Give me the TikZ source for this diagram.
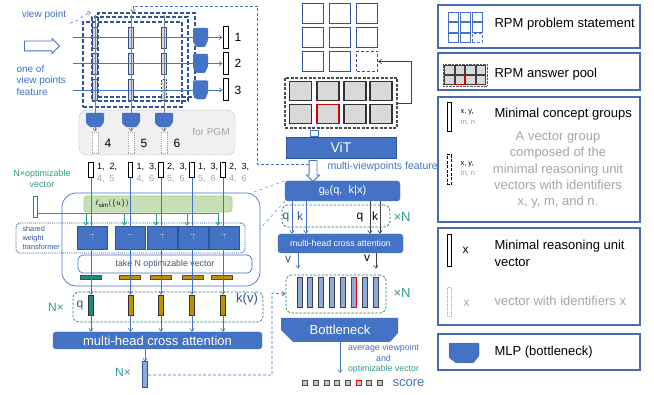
\documentclass[tikz,border=0pt]{standalone}
\usepackage{fontspec}
\setmainfont{Liberation Sans}
\usepackage{amsmath}
\usetikzlibrary{arrows.meta,positioning,shapes.arrows}

\definecolor{pptblue}{HTML}{4472C4}
\definecolor{darkblue}{HTML}{2F5597}
\definecolor{tealc}{HTML}{2E9B8C}
\definecolor{tealv}{HTML}{1F8A7A}
\definecolor{goldc}{HTML}{BF9000}
\definecolor{greenfill}{HTML}{C5E0B4}
\definecolor{greenline}{HTML}{A9D18E}
\definecolor{lgrey}{HTML}{D9D9D9}
\definecolor{vecblue}{HTML}{8FAADC}
\definecolor{legline}{HTML}{4A6BB0}
\definecolor{txtblue}{HTML}{4472C4}
\definecolor{greytxt}{HTML}{A6A6A6}
\definecolor{slate}{HTML}{44546A}

\newcommand{\fsz}[2]{\fontsize{#1pt}{#2pt}\selectfont}

\tikzset{
  >={Straight Barb[length=3pt,width=4.5pt]},
  ln/.style={pptblue, line width=0.6pt},
  gln/.style={gray, line width=0.6pt},
  tln/.style={tealc, line width=0.8pt},
  fb/.style={pptblue, dash pattern=on 3pt off 2pt, line width=0.8pt},
  vpframe/.style={draw=darkblue, dash pattern=on 4pt off 2pt, line width=1.2pt, inner sep=0},
  vpvec/.style={draw=darkblue, fill=gray!30, line width=0.9pt, minimum width=5pt, minimum height=21pt, inner sep=0},
  outvec/.style={draw=black, fill=white, line width=1pt, minimum width=5pt, minimum height=22pt, inner sep=0},
  pgmvec/.style={draw=gray!70, densely dotted, fill=white, line width=0.9pt, minimum width=6pt, minimum height=21pt, inner sep=0},
  pgmbox/.style={draw=darkblue!35, densely dotted, fill=gray!12, rounded corners=8pt, line width=0.8pt, inner sep=0},
  cvec/.style={draw=black, fill=white, line width=1pt, minimum width=4.5pt, minimum height=15pt, inner sep=0},
  bigbox/.style={draw=pptblue, rounded corners=14pt, line width=0.7pt, inner sep=0},
  simbox/.style={draw=greenline, fill=greenfill, rounded corners=3pt, line width=0.7pt, inner sep=0},
  sharebox/.style={draw=darkblue, densely dotted, rounded corners=4pt, line width=0.9pt, inner sep=0},
  tbox/.style={draw=darkblue, fill=pptblue, line width=0.7pt, minimum width=30pt, minimum height=23pt, inner sep=0, text=white, font=\fsz{7}{8}},
  takebox/.style={draw=pptblue, fill=white, rounded corners=5pt, line width=0.7pt, inner sep=0, text=slate, font=\fsz{8.8}{10}},
  bar/.style={draw=gray!60!black, line width=0.4pt, minimum width=21pt, minimum height=4pt, inner sep=0},
  tealbox/.style={draw=tealc!80!black, dash pattern=on 2.5pt off 1.5pt, rounded corners=6pt, line width=0.7pt, inner sep=0},
  kvec/.style={draw=gray!40!black, line width=0.6pt, minimum width=5pt, minimum height=20pt, inner sep=0},
  cabox/.style={draw=pptblue, fill=pptblue, rounded corners=3pt, inner sep=0, text=white},
  outv/.style={draw=darkblue, fill=vecblue, line width=1pt, minimum width=5pt, minimum height=26pt, inner sep=0},
  rpmsq/.style={draw=darkblue, fill=white, line width=1.2pt, minimum width=21pt, minimum height=20pt, inner sep=0},
  ansq/.style={draw=black!80, fill=lgrey, line width=1.3pt, minimum width=22pt, minimum height=19pt, inner sep=0},
  pool/.style={draw=black!70, dash pattern=on 3pt off 1.5pt, line width=1.2pt, inner sep=0},
  bvec/.style={draw=black!75, fill=vecblue, line width=1pt, minimum width=5pt, minimum height=30pt, inner sep=0},
  scsq/.style={draw=black!70, fill=gray!45, line width=0.8pt, minimum width=5pt, minimum height=5pt, inner sep=0},
  legbox/.style={draw=legline, line width=1.2pt, inner sep=0},
  legtxt/.style={font=\fsz{13}{16.5}, anchor=west},
  minisq/.style={draw=pptblue, line width=0.8pt, minimum width=10pt, minimum height=9.5pt, inner sep=0},
  minians/.style={draw=black!75, fill=lgrey, line width=0.8pt, minimum width=9.5pt, minimum height=9pt, inner sep=0},
  % single cells that differ
  sv33/.style={dash pattern=on 2pt off 1.5pt},
  sq33/.style={dash pattern=on 3pt off 2pt},
  sa22/.style={draw=red!85!black},
  sb6/.style={draw=red},
  ssc6/.style={draw=red},
  sm33/.style={densely dashed},
  sn22/.style={draw=red!85!black},
  mlp/.pic={\path[fill=pptblue, rounded corners=1pt, pic actions] (-7.5,-9.5) -- (7.5,-9.5) -- (7.5,3) -- (4.5,9.5) -- (-4,9.5) -- (-7.5,4.5) -- cycle;}
}

\begin{document}
\begin{tikzpicture}[x=1pt,y=-1pt]
\useasboundingbox (0,0) rectangle (654,395);
\fill[white] (0,0) rectangle (654,395);

% view point features
\node[vpframe, minimum width=97pt, minimum height=84pt] (frC) at (146.5,55) {};
\node[vpframe, minimum width=96pt, minimum height=84pt] (frB) at (140,59) {};
\node[vpframe, minimum width=99pt, minimum height=85pt] (frA) at (132.5,64.5) {};
\node[pgmbox, minimum width=156pt, minimum height=45pt] (pgm) at (157,132.5) {};
\node[font=\fsz{10}{12}, text=greytxt] (pgmlab) at (211,132) {for PGM};

\node[font=\fsz{10}{12}, text=txtblue] (vplab) at (44,15) {view point};
\coordinate (vpend) at (91,12);
\draw[pptblue, dashed, line width=0.5pt, ->] (vplab.south east) to[out=10,in=200] (vpend);

\node[single arrow, draw=pptblue, fill=white, line width=0.8pt, minimum height=35pt, inner sep=4.5pt, single arrow head extend=2.5pt] (inarr) at (39.5,46) {};
\node[font=\fsz{10}{11.5}, text=txtblue, align=left, anchor=west] (featlab) at (13,80) {one of\\view points\\feature};

\foreach \c/\x in {1/95,2/131,3/164}{
  \foreach \r/\y in {1/37.5,2/63.5,3/90}
    \node[vpvec, sv\r\c/.try] (v\r\c) at (\x,\y) {};
  \coordinate (cin\c) at (\x,15);
}
\foreach \r/\y in {1/37.5,2/63.5,3/90}{
  \node[outvec] (o\r) at (225.5,\y) {};
  \node[font=\fsz{12}{14}, anchor=west] (ol\r) at (231,\y) {\r};
  \coordinate (rin\r) at (73,\y);
}
\foreach \c/\x/\n in {1/95/4,2/131/5,3/164/6}{
  \node[pgmvec] (p\c) at (\x,142.5) {};
  \node[font=\fsz{12}{14}, anchor=west] (pl\c) at (\x+6,143) {\n};
}
\foreach \r in {1,2,3} \draw[ln,->] (rin\r) -- (o\r.west);
\foreach \c in {1,2,3} \draw[gln,->] (cin\c) -- (p\c.north);
\foreach \y in {37.5,63.5,90} \pic at (200.5,\y) {mlp};
\foreach \x in {95,131,164} \pic[xscale=1.2,yscale=0.75] at (\x,120) {mlp};

% ViT feature back to the view points
\coordinate (vitout) at (309,164.5);
\coordinate (fbtop) at (257,6);
\coordinate (fbin) at (133,13);
\draw[fb,->] (vitout) -| (fbtop) -| (fbin);

% concept groups + shared weight transformer
\node[bigbox, minimum width=198pt, minimum height=93pt] (grp) at (161,239.5) {};
\node[simbox, minimum width=148pt, minimum height=16pt] (sim) at (158,204) {};
\node[font=\fsz{8}{10}] (simlab) at (112,204) {$\ell_{\mathrm{sim}}(\{u\})$};
\node[sharebox, minimum width=229pt, minimum height=30pt] (share) at (130.5,238) {};
\node[font=\fsz{7.3}{8.8}, text=darkblue, align=left, anchor=west] (sharelab) at (19,238) {shared\\weight\\transformer};
\foreach \i/\x in {1/92,2/130.5,3/162,4/193,5/224}{
  \node[tbox] (T\i) at (\x,237.5) {T};
  \coordinate (td\i) at ([xshift=-6pt]T\i.north);
}
\node[takebox, minimum width=174pt, minimum height=18pt] (take) at (165,264) {take N optimizable vector};
\node[bar, fill=tealv] (b1) at (90.5,277.5) {};
\foreach \i/\x in {2/130,3/160.5,4/192.5,5/222} \node[bar, fill=goldc] (b\i) at (\x,277.5) {};

\node[tealbox, minimum width=190pt, minimum height=30pt] (kv) at (168,307) {};
\node[font=\fsz{12}{14}, text=darkblue] (qlab) at (80,306) {q};
\node[font=\fsz{13}{15}, text=darkblue] (kvlab) at (247,299) {k(v)};
\node[font=\fsz{12}{14}, text=tealc] (nx1) at (56,307) {N×};
\node[kvec, fill=tealv] (g1) at (91,305) {};
\foreach \i/\x in {2/130.5,3/161,4/192,5/223} \node[kvec, fill=goldc] (g\i) at (\x,305) {};

\foreach \i/\x/\a/\b in {1/91/{1,\ \ 2,}/{4,\ \ 5},2/130.5/{1,\ \ 3,}/{4,\ \ 6},3/161/{2,\ \ 3,}/{5,\ \ 6},4/192/{1,\ \ 3,}/{5,\ \ 6},5/223/{2,\ \ 3,}/{4,\ \ 6}}{
  \node[cvec] (c\i) at (\x,170) {};
  \node[font=\fsz{9}{10}, anchor=west] (ca\i) at (\x+2.5,166.5) {\a};
  \node[font=\fsz{9}{10}, anchor=west, text=greytxt] (cb\i) at (\x+2.5,179) {\b};
}
\node[cvec, dash pattern=on 2.5pt off 1.5pt] (c4) at (192,170) {};
\node[cvec, dash pattern=on 2.5pt off 1.5pt] (c5) at (223,170) {};

\node[draw=tealv, fill=white, line width=1pt, minimum width=4.5pt, minimum height=21pt, inner sep=0] (tv) at (35.5,207.5) {};
\node[font=\fsz{9}{10.5}, text=tealc, align=center] (tvlab) at (42,179) {N×optimizable\\vector};
\coordinate (tvout) at (38,213);
\draw[tln] (tvout) -- (td5 |- tvout);
\foreach \i in {1,...,5} \draw[tln,->] (td\i |- tvout) -- (td\i);

\node[cabox, minimum width=209pt, minimum height=17pt, font=\fsz{13}{15}] (ca) at (157.5,340.5) {multi-head cross attention};
\foreach \i in {1,...,5}{
  \draw[ln,->] (c\i.south) -- (g\i.north);
  \draw[ln,->] (g\i.south) -- (g\i.south |- ca.north);
}
\node[outv] (outv) at (145,375) {};
\draw[ln,->] (ca.south -| outv) -- (outv.north);
\node[font=\fsz{12}{14}, text=tealc] (nx2) at (123,372) {N×};

% RPM panels and ViT
\foreach \r/\y in {1/13.5,2/37.5,3/61.5}
  \foreach \c/\x in {1/313,2/340,3/367}
    \node[rpmsq, sq\r\c/.try] (q\r\c) at (\x,\y) {};
\node[pool, minimum width=112pt, minimum height=50pt] (pool) at (341,103) {};
\foreach \r/\y in {1/91,2/114}
  \foreach \c/\x in {1/300.5,2/328,3/355,4/381}
    \node[ansq, sa\r\c/.try] (a\r\c) at (\x,\y) {};
\draw[gray!50!black, line width=0.6pt, ->] (pool.east) -- ++(14,0) |- (q33.east);

\node[draw=pptblue, fill=white, line width=0.7pt, minimum width=8pt, minimum height=6pt, inner sep=0] (plink) at (314,133.5) {};
\node[fill=pptblue, draw=darkblue, line width=0.5pt, minimum width=110pt, minimum height=21pt, text=white, font=\fsz{14}{16}] (vit) at (341,147.5) {ViT};
\node[single arrow, shape border rotate=270, draw=pptblue, fill=white, line width=0.8pt, minimum height=21pt, inner sep=3.5pt, single arrow head extend=2.5pt] (vitarr) at (313,169) {};
\node[font=\fsz{10.5}{12}, text=txtblue, anchor=west] (mvlab) at (324,167) {multi-viewpoints feature};

\node[cabox, minimum width=115pt, minimum height=20pt, font=\fsz{11}{13}] (gq) at (342.5,191) {g\textsubscript{θ}(q,\ \ k|x)};
\draw[pptblue, dashed, line width=0.4pt] (gq.north west) -- ([xshift=-8pt]grp.north east);
\draw[pptblue, dashed, line width=0.4pt] (gq.south west) -- ([yshift=11pt]grp.east);

\node[tealbox, minimum width=108pt, minimum height=22pt] (qk) at (336,216) {};
\node[font=\fsz{13}{15}, text=tealc] (nx3) at (402,217) {×N};
\node[cabox, minimum width=125pt, minimum height=19pt, font=\fsz{8.8}{10}] (ca2) at (340.5,243.5) {multi-head cross attention};
\foreach \k/\x in {1/292,2/306,3/370,4/380,5/298,6/376} \coordinate (ax\k) at (\x,0);
\draw[ln,->] (gq.south -| ax1) -- (ca2.north -| ax1);
\draw[ln,->] (gq.south -| ax2) -- (ca2.north -| ax2);
\draw[black!75, line width=0.6pt, ->] (gq.south -| ax3) -- (ca2.north -| ax3);
\draw[black!75, line width=0.6pt, ->] (gq.south -| ax4) -- (ca2.north -| ax4);
\node[font=\fsz{12}{14}, text=darkblue] (ql1) at (286,218) {q};
\node[font=\fsz{12}{14}, text=darkblue] (kl1) at (300,216) {k};
\node[font=\fsz{12}{14}] (ql2) at (360,218) {q};
\node[font=\fsz{12}{14}] (kl2) at (375,216) {k};

\node[tealbox, minimum width=100pt, minimum height=38pt] (bvb) at (336,294) {};
\foreach \i/\x in {1/299.5,2/309.5,3/320.5,4/331.5,5/342.5,6/353.5,7/364.5,8/375.5}
  \node[bvec, sb\i/.try] (bv\i) at (\x,293) {};
\node[font=\fsz{13}{15}, text=tealc] (nx4) at (402,293) {×N};
\node[font=\fsz{12}{14}, text=darkblue] (vl1) at (288,259) {v};
\node[font=\fsz{12}{14}] (vl2) at (367,258) {v};
\draw[ln,->, shorten >=6pt] (ca2.south -| ax5) -- (bvb.north -| ax5);
\draw[black!75, line width=0.6pt, ->, shorten >=6pt] (ca2.south -| ax6) -- (bvb.north -| ax6);

\coordinate (fbc) at (272,293);
\draw[fb,->] (outv.east) -| (fbc) -- (bvb.west);

\fill[pptblue] (281,318) -- (398,318) -- (398,333) -- (390,342) -- (293,342) -- (281,330) -- cycle;
\node[text=white, font=\fsz{13}{15}] (bneck) at (340,329.5) {Bottleneck};
\coordinate (bnbot) at (340,342);
\coordinate (scin) at (340,373);
\draw[ln,->] (bnbot) -- (scin);
\node[font=\fsz{8.8}{10}, text=txtblue] (avg1) at (383.5,348) {average viewpoint};
\node[font=\fsz{8.8}{10}, text=txtblue] (avg2) at (383.5,358.5) {and};
\node[font=\fsz{8.8}{10}, text=tealc] (avg3) at (383.5,369) {optimizable vector};
\foreach \i in {1,...,8} \node[scsq, ssc\i/.try] (s\i) at (294.3+10.7*\i,383) {};
\node[font=\fsz{13}{15}, text=txtblue, anchor=west] (sclab) at (389,383) {score};

% legend
\node[legbox, minimum width=202pt, minimum height=43pt] (L1) at (539,26.5) {};
\node[legbox, minimum width=202pt, minimum height=37pt] (L2) at (539,71.5) {};
\node[legbox, minimum width=202pt, minimum height=125pt] (L3) at (539,159.5) {};
\node[legbox, minimum width=202pt, minimum height=97pt] (L4) at (539,276.5) {};
\node[legbox, minimum width=202pt, minimum height=36pt] (L5) at (539,352) {};

\foreach \r/\y in {1/17,2/27.5,3/38}
  \foreach \c/\x in {1/453,2/465,3/477}
    \node[minisq, sm\r\c/.try] (m\r\c) at (\x,\y) {};
\node[legtxt] (L1t) at (491,24) {RPM problem statement};

\node[draw=gray!70!black, densely dotted, fill=gray!15, minimum width=44pt, minimum height=22pt, inner sep=0] (mpool) at (465,75) {};
\foreach \r/\y in {1/70,2/80}
  \foreach \c/\x in {1/449.5,2/460,3/470.5,4/481}
    \node[minians, sn\r\c/.try] (n\r\c) at (\x,\y) {};
\node[legtxt] (L2t) at (491,74) {RPM answer pool};

\node[cvec, minimum height=29pt] (lv1) at (449.5,117.5) {};
\node[font=\fsz{7.5}{9}, anchor=west] (lxy1) at (457,112.5) {x,\ y,};
\node[font=\fsz{7.5}{9}, anchor=west, text=greytxt] (lmn1) at (457,122.5) {m,\ n};
\node[legtxt] (L3t) at (491,114) {Minimal concept groups};
\node[cvec, dash pattern=on 3pt off 1.5pt, minimum height=30pt] (lv2) at (449.5,170) {};
\node[font=\fsz{7.5}{9}, anchor=west] (lxy2) at (457,164) {x,\ y,};
\node[font=\fsz{7.5}{9}, anchor=west, text=greytxt] (lmn2) at (457,174) {m,\ n};
\node[font=\fsz{13}{16.3}, text=greytxt, align=center] (L3d) at (558,170) {A vector group\\composed of the\\minimal reasoning unit\\vectors with identifiers\\x, y, m, and n.};

\node[cvec, minimum height=32pt] (lv3) at (449.5,251) {};
\node[font=\fsz{12}{14}, anchor=west] (lx1) at (459,250) {x};
\node[legtxt, align=left] (L4t) at (491,253.5) {Minimal reasoning unit\\vector};
\node[cvec, draw=gray!70, densely dotted, minimum height=29pt] (lv4) at (449.5,302.5) {};
\node[font=\fsz{12}{14}, anchor=west, text=greytxt] (lx2) at (460,303) {x};
\node[legtxt, text=greytxt] (L4d) at (491,301) {vector with identifiers x};

\pic[xscale=2, yscale=1.05, draw=darkblue, densely dotted, line width=0.5pt] at (464,353) {mlp};
\node[legtxt] (L5t) at (491,352) {MLP (bottleneck)};
\end{tikzpicture}
\end{document}
